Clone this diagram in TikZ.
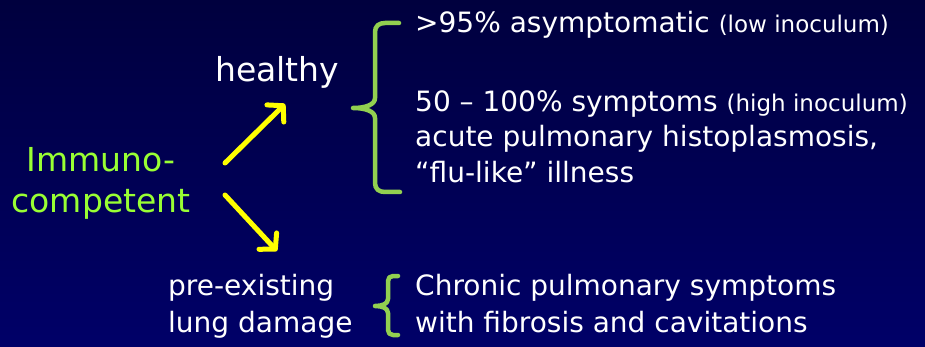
\documentclass[tikz,border=0pt]{standalone}
\usepackage{fontspec}
\setmainfont{DejaVu Sans}
\usetikzlibrary{arrows.meta}
\definecolor{bgtop}{RGB}{0,0,62}
\definecolor{bgbot}{RGB}{0,0,104}
\definecolor{limetxt}{RGB}{153,255,51}
\definecolor{bracegreen}{RGB}{146,208,80}
\definecolor{arrowyellow}{RGB}{255,255,0}
\newcommand\smalltxtfont{\fontsize{23}{28}\selectfont}
\begin{document}
\begin{tikzpicture}[x=1pt,y=-1pt,
  txt/.style={text=white,inner sep=0pt,anchor=base west,font=\fontsize{28}{34}\selectfont},
  bigtxt/.style={inner sep=0pt,anchor=base,font=\fontsize{33}{40}\selectfont},
  arr/.style={draw=arrowyellow,line width=5pt,line cap=round,line join=round,-{Straight Barb[length=11pt,width=24pt,line cap=round,line join=round]}},
  brc/.style={draw=bracegreen,line width=4.5pt,line cap=round,line join=round}]
\shade[top color=bgtop,bottom color=bgbot] (0,0) rectangle (925,347);
\useasboundingbox (0,0) rectangle (925,347);
% left labels
\node[bigtxt,text=limetxt] (imm1) at (101,172) {Immuno-};
\node[bigtxt,text=limetxt] (imm2) at (101,213) {competent};
\node[bigtxt,text=white,anchor=base west] (healthy) at (215,82) {healthy};
\node[txt] (pre1) at (168,295) {pre-existing};
\node[txt] (pre2) at (168,332) {lung damage};
% right texts
\node[txt] (t1) at (415,33) {>95\% asymptomatic {\smalltxtfont (low inoculum)}};
\node[txt] (t2) at (415,112) {50 – 100\% symptoms {\smalltxtfont (high inoculum)}};
\node[txt] (t3) at (415,147) {acute pulmonary histoplasmosis,};
\node[txt] (t4) at (415,183) {“flu-like” illness};
\node[txt] (t5) at (415,295) {Chronic pulmonary symptoms};
\node[txt] (t6) at (415,332) {with fibrosis and cavitations};
% arrows
\coordinate (upS) at (225,163);
\coordinate (upE) at (285,104);
\coordinate (dnS) at (225,195);
\coordinate (dnE) at (277,251);
\draw[arr] (upS) -- (upE);
\draw[arr] (dnS) -- (dnE);
% big brace
\draw[brc] (399,23) -- (385,23) .. controls (379,23) and (375,26) .. (375,32) -- (375,98)
  .. controls (375,105) and (365,108) .. (353,108)
  .. controls (365,108) and (375,111) .. (375,118) -- (375,183)
  .. controls (375,189) and (379,192) .. (385,192) -- (400,192);
% small brace
\draw[brc] (398,276) -- (393,276) .. controls (390,276) and (388,278) .. (388,281) -- (388,299)
  .. controls (388,304) and (382,306) .. (375,306)
  .. controls (382,306) and (388,308) .. (388,313) -- (388,330)
  .. controls (388,333) and (390,335) .. (393,335) -- (398,335);
\end{tikzpicture}
\end{document}
